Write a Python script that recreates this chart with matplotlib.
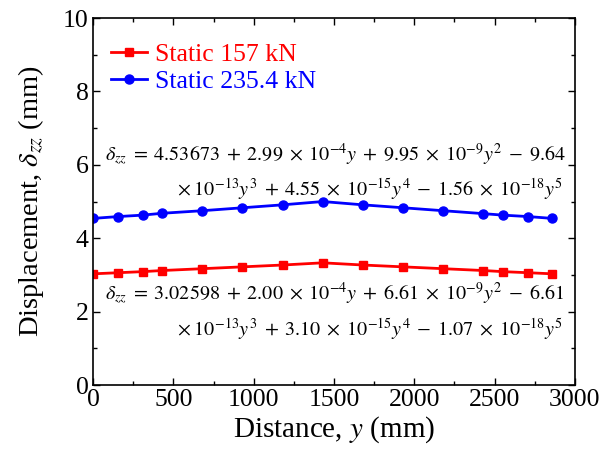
import matplotlib
matplotlib.use("Agg")
import matplotlib.pyplot as plt
from matplotlib.ticker import MultipleLocator

plt.rcParams['font.family'] = ['Liberation Serif', 'DejaVu Serif']
plt.rcParams['mathtext.fontset'] = 'stix'

# Measurement positions along the slab (mm)
distance = [0, 155, 310, 430, 680, 930, 1180, 1430, 1680, 1930, 2180, 2430, 2550, 2710, 2860]
# Vertical displacement (mm)
disp_157 = [3.03, 3.06, 3.09, 3.12, 3.17, 3.22, 3.27, 3.33, 3.27, 3.22, 3.17, 3.12, 3.09, 3.06, 3.03]
disp_235 = [4.54, 4.59, 4.63, 4.68, 4.75, 4.83, 4.91, 5.00, 4.91, 4.83, 4.75, 4.67, 4.63, 4.59, 4.54]
series_labels = ['Static 157 kN', 'Static 235.4 kN']

# Fitted polynomial expressions (wide spacing around operators)
S = r'\;'
def op(sym):
    return S + sym + S

eq_235 = [r'$\delta_{zz}' + op('=') + '4.53673' + op('+') + r'2.99' + op(r'\times') + r'10^{-4}y' + op('+')
          + r'9.95' + op(r'\times') + r'10^{-9}y^{2}' + op('-') + '9.64$',
          r'$\times' + S + r'10^{-13}y^{3}' + op('+') + r'4.55' + op(r'\times') + r'10^{-15}y^{4}' + op('-')
          + r'1.56' + op(r'\times') + r'10^{-18}y^{5}$']
eq_157 = [r'$\delta_{zz}' + op('=') + '3.02598' + op('+') + r'2.00' + op(r'\times') + r'10^{-4}y' + op('+')
          + r'6.61' + op(r'\times') + r'10^{-9}y^{2}' + op('-') + '6.61$',
          r'$\times' + S + r'10^{-13}y^{3}' + op('+') + r'3.10' + op(r'\times') + r'10^{-15}y^{4}' + op('-')
          + r'1.07' + op(r'\times') + r'10^{-18}y^{5}$']

fig = plt.figure(figsize=(6.12, 4.57), dpi=100)
ax = fig.add_axes([0.152, 0.1575, 0.7875, 0.803])

ax.plot(distance, disp_157, color='#ff0000', marker='s', markersize=6, lw=2, label=series_labels[0])
ax.plot(distance, disp_235, color='#0000ff', marker='o', markersize=6.5, lw=2, label=series_labels[1])

ax.set_xlim(0, 3000)
ax.set_ylim(0, 10)
ax.xaxis.set_major_locator(MultipleLocator(500))
ax.xaxis.set_minor_locator(MultipleLocator(250))
ax.yaxis.set_major_locator(MultipleLocator(2))
ax.yaxis.set_minor_locator(MultipleLocator(1))
ax.tick_params(which='both', direction='in', top=True, right=True, labelsize=18.5, width=1)
ax.tick_params(which='major', length=5, pad=3)
ax.tick_params(which='minor', length=3)
for s in ax.spines.values():
    s.set_linewidth(1.2)

ax.set_xlabel(r'Distance, $\it{y}$ (mm)', fontsize=21, labelpad=2)
ax.set_ylabel(r'Displacement, $\delta_{zz}$ (mm)', fontsize=20.5, labelpad=12)

leg = ax.legend(loc='upper left', frameon=False, fontsize=18.5, handlelength=1.4,
                handletextpad=0.3, labelspacing=0.15, borderaxespad=0.3,
                bbox_to_anchor=(0.0, 0.98))
for txt, c in zip(leg.get_texts(), ['#ff0000', '#0000ff']):
    txt.set_color(c)

fs_eq = 14.5
ax.text(0.025, 0.627, eq_235[0], transform=ax.transAxes, fontsize=fs_eq, va='center', ha='left')
ax.text(0.975, 0.531, eq_235[1], transform=ax.transAxes, fontsize=fs_eq, va='center', ha='right')
ax.text(0.025, 0.248, eq_157[0], transform=ax.transAxes, fontsize=fs_eq, va='center', ha='left')
ax.text(0.975, 0.150, eq_157[1], transform=ax.transAxes, fontsize=fs_eq, va='center', ha='right')

fig.savefig('out.png', dpi=100)
